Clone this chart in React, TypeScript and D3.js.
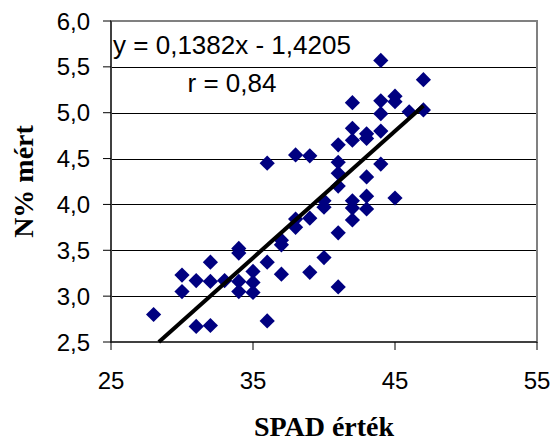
import React from "react";
import * as d3 from "d3";

const spad: number[] = [
  28,
  30, 30,
  31, 31,
  32, 32, 32,
  33,
  34, 34, 34, 34,
  35, 35, 35,
  36, 36, 36,
  37, 37, 37,
  38, 38, 38,
  39, 39, 39,
  40, 40, 40,
  41, 41, 41, 41, 41, 41,
  42, 42, 42, 42, 42, 42,
  43, 43, 43, 43, 43,
  44, 44, 44, 44, 44,
  45, 45, 45,
  46,
  47, 47,
];
const nPct: number[] = [
  2.80,
  3.23, 3.05,
  3.17, 2.67,
  3.37, 3.16, 2.68,
  3.17,
  3.52, 3.47, 3.16, 3.05,
  3.27, 3.15, 3.04,
  4.45, 3.37, 2.73,
  3.61, 3.56, 3.24,
  4.54, 3.84, 3.75,
  4.53, 3.85, 3.26,
  4.04, 3.97, 3.42,
  4.65, 4.46, 4.34, 4.20, 3.69, 3.10,
  5.11, 4.83, 4.70, 4.04, 3.96, 3.83,
  4.77, 4.72, 4.30, 4.09, 3.95,
  5.57, 5.13, 4.99, 4.80, 4.44,
  5.18, 5.12, 4.07,
  5.01,
  5.36, 5.03,
];
const xTicks: number[] = [25, 35, 45, 55];
const yTicks: number[] = [2.5, 3.0, 3.5, 4.0, 4.5, 5.0, 5.5, 6.0];
const slope = 0.1382;
const intercept = -1.4205;
const equationText = "y = 0,1382x - 1,4205";
const rText = "r = 0,84";
const xTitle = "SPAD érték";
const yTitle = "N% mért";

const L = 111, R = 537, T = 21, B = 342;

export default function App() {
  const x = d3.scaleLinear().domain([25, 55]).range([L, R]);
  const y = d3.scaleLinear().domain([2.5, 6.0]).range([B, T]);
  const fmt = (v: number) => v.toFixed(1).replace(".", ",");
  const xMinData = d3.min(spad) as number;
  const xMaxData = d3.max(spad) as number;
  const xStart = Math.max(xMinData, (2.5 - intercept) / slope);
  const line = d3.line<number>().x((d) => x(d)).y((d) => y(slope * d + intercept));
  const r = 7.6;
  const diamond = (cx: number, cy: number) =>
    `M${cx},${cy - r}L${cx + r},${cy}L${cx},${cy + r}L${cx - r},${cy}Z`;
  const sans = "'Liberation Sans', Arial, sans-serif";
  const serif = "'Liberation Serif', 'Times New Roman', serif";
  return (
    <div style={{ position: "absolute", left: 0, top: 0 }}>
      <svg width={553} height={442} style={{ display: "block", background: "#fff" }}>
        <rect x={0} y={0} width={553} height={442} fill="#fff" />
        {/* gridlines */}
        {yTicks.filter((t) => t > 2.5 && t < 6.0).map((t) => (
          <line key={"g" + t} x1={L} x2={R} y1={Math.round(y(t)) + 0.5} y2={Math.round(y(t)) + 0.5} stroke="#000" strokeWidth={1} />
        ))}
        {/* plot border */}
        <rect x={L} y={T} width={R - L} height={B - T} fill="none" stroke="#808080" strokeWidth={2} />
        {/* axes */}
        <line x1={L} x2={L} y1={T} y2={B} stroke="#000" strokeWidth={1} />
        <line x1={L} x2={R} y1={B} y2={B} stroke="#000" strokeWidth={1} />
        {yTicks.map((t) => (
          <g key={"yt" + t}>
            <line x1={L - 8} x2={L} y1={y(t)} y2={y(t)} stroke="#000" strokeWidth={1} />
            <text x={90} y={y(t)} dy="0.36em" textAnchor="end" fontFamily={sans} fontSize={24} fill="#000">
              {fmt(t)}
            </text>
          </g>
        ))}
        {xTicks.map((t) => (
          <g key={"xt" + t}>
            <line x1={x(t)} x2={x(t)} y1={B} y2={B + 8} stroke="#000" strokeWidth={1} />
            <text x={x(t)} y={389} textAnchor="middle" fontFamily={sans} fontSize={24} fill="#000">
              {t}
            </text>
          </g>
        ))}
        {/* points */}
        {spad.map((s, i) => (
          <path key={"p" + i} d={diamond(x(s), y(nPct[i]))} fill="#000080" />
        ))}
        {/* trendline */}
        <path d={line([xStart, xMaxData]) || ""} stroke="#000" strokeWidth={4} fill="none" />
        {/* equation */}
        <text x={232} y={54} textAnchor="middle" fontFamily={sans} fontSize={26} fill="#000">
          {equationText}
        </text>
        <text x={232} y={92} textAnchor="middle" fontFamily={sans} fontSize={26} fill="#000">
          {rText}
        </text>
        {/* axis titles */}
        <text x={(L + R) / 2} y={436} textAnchor="middle" fontFamily={serif} fontWeight="bold" fontSize={28} fill="#000">
          {xTitle}
        </text>
        <text transform={`translate(33, ${(T + B) / 2}) rotate(-90)`} textAnchor="middle" fontFamily={serif} fontWeight="bold" fontSize={28} fill="#000">
          {yTitle}
        </text>
      </svg>
    </div>
  );
}
